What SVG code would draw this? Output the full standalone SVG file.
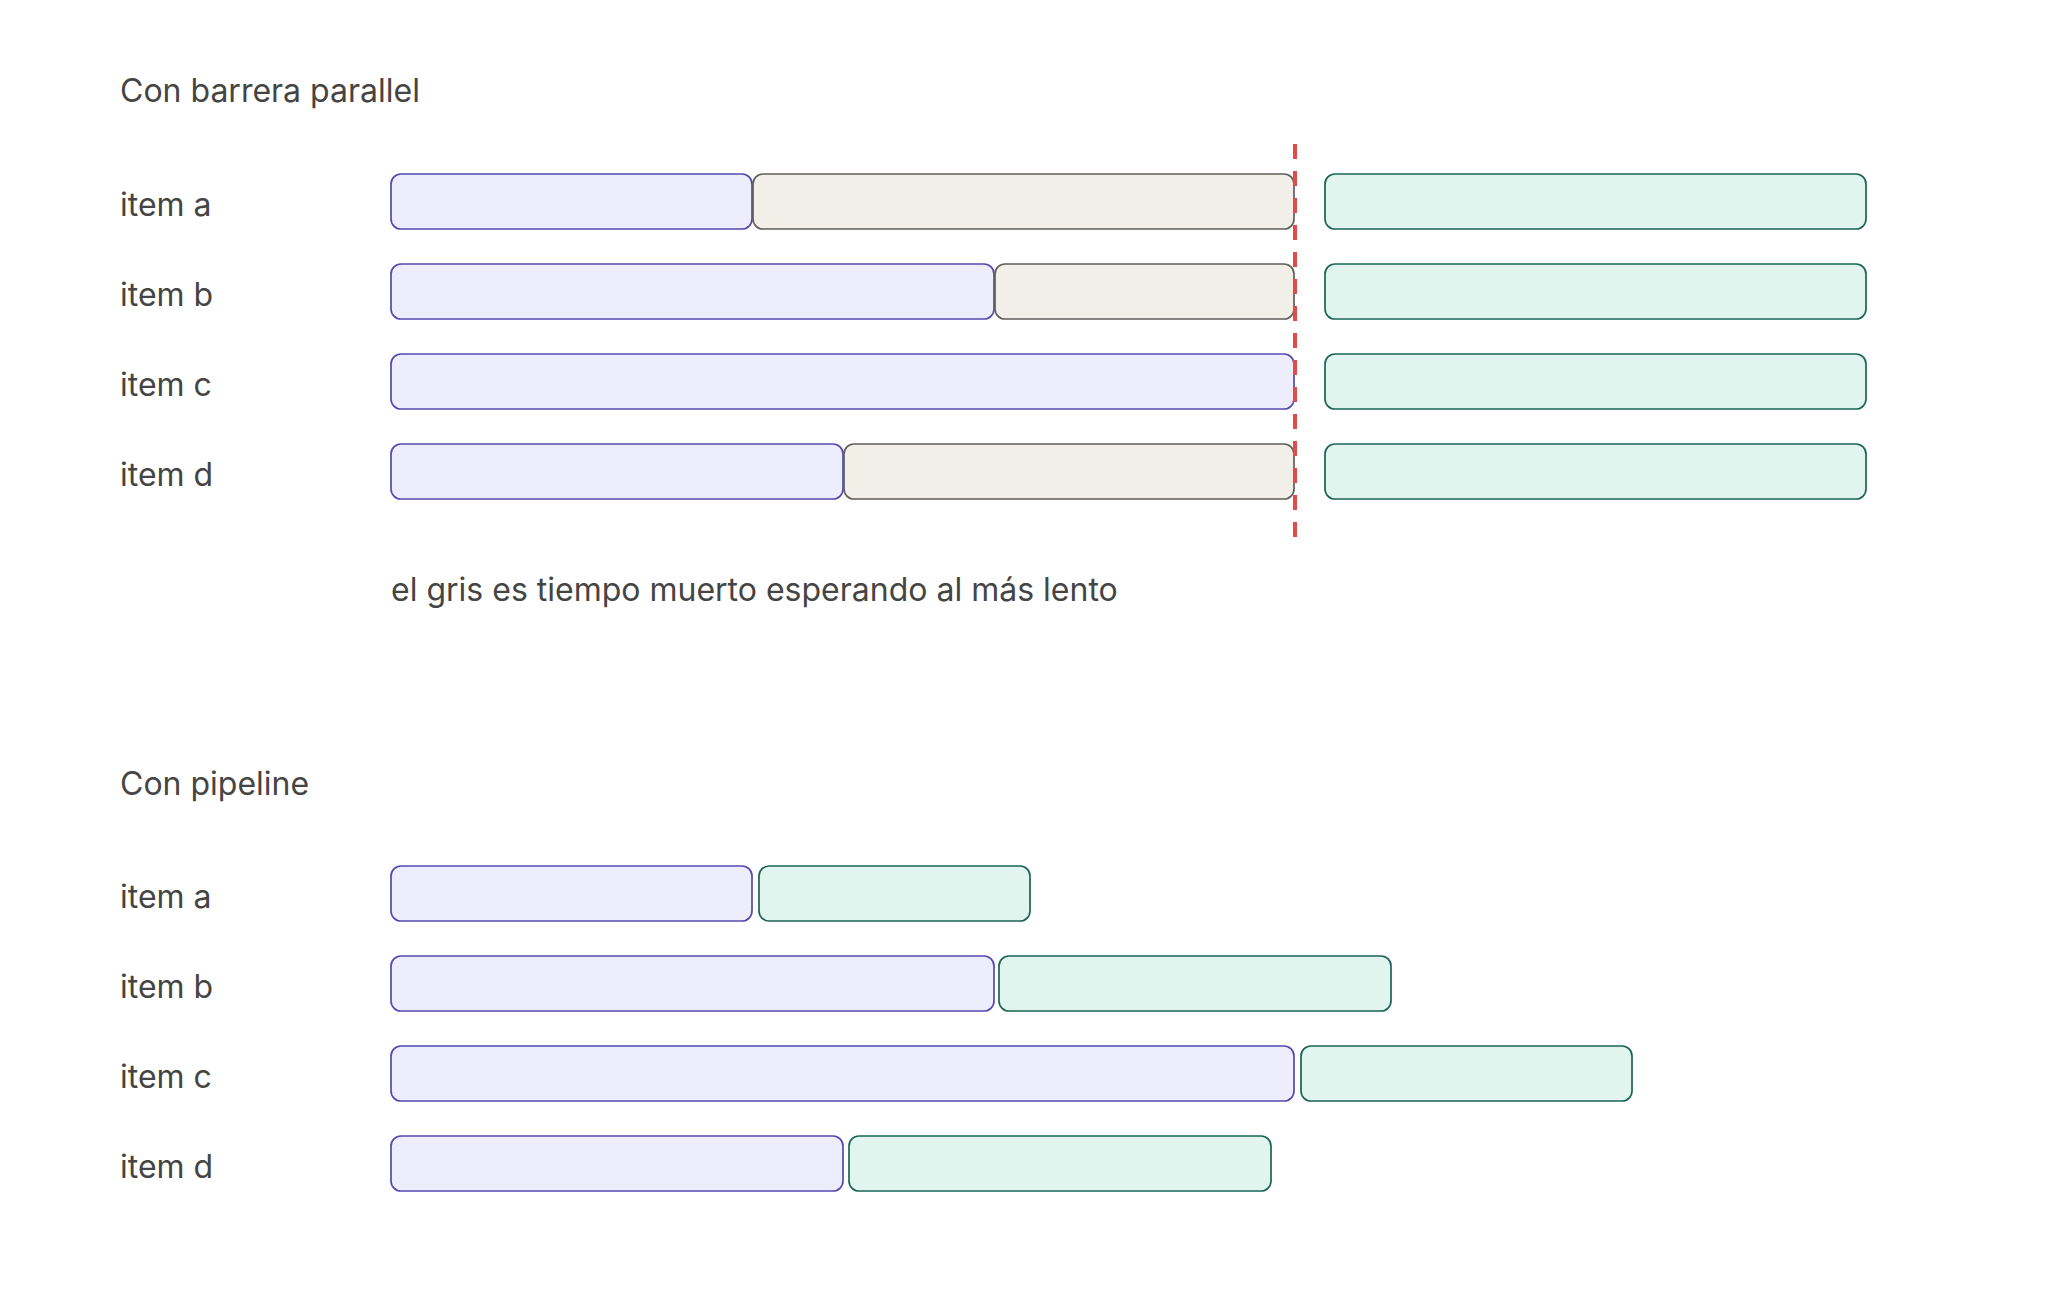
<svg xmlns="http://www.w3.org/2000/svg" width="2048" height="1295" viewBox="0 0 2048 1295">
<style>
text{font-family:Inter,"Liberation Sans",sans-serif;fill:#454543;font-size:32px}
.p{fill:#EEEDFE;stroke:#5449AE;stroke-width:1.7}
.g{fill:#F1EFE8;stroke:#5F5E5A;stroke-width:1.7}
.t{fill:#E1F5EE;stroke:#1A6554;stroke-width:1.7}
</style>
<rect width="2048" height="1295" fill="#fff"/>
<text x="120" y="102">Con barrera parallel</text>
<g id="top-a"><text x="120" y="216">item a</text>
<rect class="p" x="391" y="174" width="361" height="55" rx="10"/>
<rect class="g" x="753" y="174" width="541" height="55" rx="10"/>
<rect class="t" x="1325" y="174" width="541" height="55" rx="10"/></g>
<g id="top-b"><text x="120" y="306">item b</text>
<rect class="p" x="391" y="264" width="603" height="55" rx="10"/>
<rect class="g" x="995" y="264" width="299" height="55" rx="10"/>
<rect class="t" x="1325" y="264" width="541" height="55" rx="10"/></g>
<g id="top-c"><text x="120" y="396">item c</text>
<rect class="p" x="391" y="354" width="903" height="55" rx="10"/>
<rect class="t" x="1325" y="354" width="541" height="55" rx="10"/></g>
<g id="top-d"><text x="120" y="486">item d</text>
<rect class="p" x="391" y="444" width="452" height="55" rx="10"/>
<rect class="g" x="844" y="444" width="450" height="55" rx="10"/>
<rect class="t" x="1325" y="444" width="541" height="55" rx="10"/></g>
<g id="connectors"><line x1="1295" y1="144" x2="1295" y2="540" stroke="#E24B4A" stroke-width="4" stroke-dasharray="15 12"/></g>
<text x="391" y="601">el gris es tiempo muerto esperando al más lento</text>
<text x="120" y="795">Con pipeline</text>
<g id="bot-a"><text x="120" y="908">item a</text>
<rect class="p" x="391" y="866" width="361" height="55" rx="10"/>
<rect class="t" x="759" y="866" width="271" height="55" rx="10"/></g>
<g id="bot-b"><text x="120" y="998">item b</text>
<rect class="p" x="391" y="956" width="603" height="55" rx="10"/>
<rect class="t" x="999" y="956" width="392" height="55" rx="10"/></g>
<g id="bot-c"><text x="120" y="1088">item c</text>
<rect class="p" x="391" y="1046" width="903" height="55" rx="10"/>
<rect class="t" x="1301" y="1046" width="331" height="55" rx="10"/></g>
<g id="bot-d"><text x="120" y="1178">item d</text>
<rect class="p" x="391" y="1136" width="452" height="55" rx="10"/>
<rect class="t" x="849" y="1136" width="422" height="55" rx="10"/></g>
</svg>
